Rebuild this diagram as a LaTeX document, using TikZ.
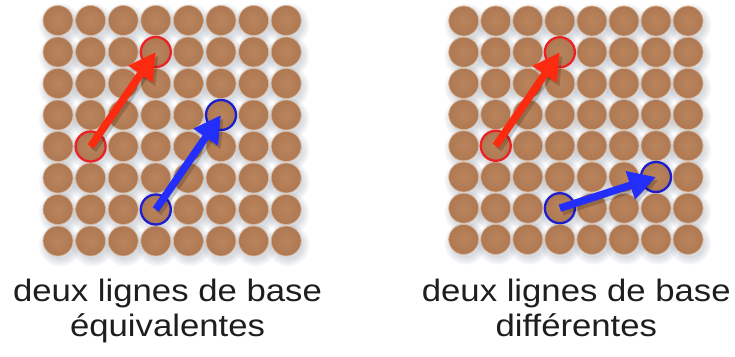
\documentclass[tikz,border=0pt]{standalone}
\usepackage{fontspec}
\setmainfont{Liberation Sans}[FakeStretch=1.12]
\usetikzlibrary{arrows.meta}
\definecolor{beadin}{RGB}{186,133,93}
\definecolor{beadout}{RGB}{174,120,82}
\definecolor{rim}{RGB}{218,184,156}
\definecolor{shadowc}{RGB}{80,92,115}
\definecolor{vred}{RGB}{252,42,14}
\definecolor{vblue}{RGB}{36,46,250}
\definecolor{ringred}{RGB}{236,34,34}
\definecolor{ringblue}{RGB}{30,30,205}
\definecolor{txt}{RGB}{30,30,30}
\begin{document}
\begin{tikzpicture}[x=1pt,y=-1pt,
  bead/.style={circle,minimum size=30pt,inner sep=0pt,inner color=beadin,outer color=beadout,draw=rim,line width=0.7pt},
  beadshadow/.style={fill=shadowc,opacity=0.06},
  ringr/.style={draw=ringred,line width=2.3pt},
  ringb/.style={draw=ringblue,line width=2.3pt},
  vec/.style={line width=7.5pt,-{Triangle[length=27pt,width=28pt]}},
  vecshadow/.style={vec,draw=black,fill=black,opacity=0.18},
  caption/.style={anchor=base,inner sep=0pt,text=txt,font=\fontsize{31}{34}\selectfont}]
\useasboundingbox (0,0) rectangle (735,356);
% shadows of beads
\foreach \i in {0,...,7}{\foreach \j in {0,...,7}{
  \foreach \r in {15,17,19,21}{
    \fill[beadshadow] ({58+32.6*\i+2},{20.5+31.5*\j+4}) circle (\r);
    \fill[beadshadow] ({463.7+32.05*\i+2},{21+31.2*\j+4}) circle (\r);
  }}}
% beads
\foreach \i in {0,...,7}{\foreach \j in {0,...,7}{
  \node[bead] (L-\i-\j) at ({58+32.6*\i},{20.5+31.5*\j}) {};
  \node[bead] (R-\i-\j) at ({463.7+32.05*\i},{21+31.2*\j}) {};
}}
% rings
\draw[ringr] (L-1-4.center) circle (15);
\draw[ringr] (L-3-1.center) circle (15);
\draw[ringb] (L-3-6.center) circle (15);
\draw[ringb] (L-5-3.center) circle (15);
\draw[ringr] (R-1-4.center) circle (15);
\draw[ringr] (R-3-1.center) circle (15);
\draw[ringb] (R-3-6.center) circle (15);
\draw[ringb] (R-6-5.center) circle (15);
% arrow shadows
\begin{scope}[transform canvas={shift={(2.5pt,-3.5pt)}}]
\draw[vecshadow] (L-1-4.center) -- (L-3-1.center);
\draw[vecshadow] (L-3-6.center) -- (L-5-3.center);
\draw[vecshadow] (R-1-4.center) -- (R-3-1.center);
\draw[vecshadow] (R-3-6.center) -- (R-6-5.center);
\end{scope}
% arrows
\draw[vec,draw=vred,fill=vred] (L-1-4.center) -- (L-3-1.center);
\draw[vec,draw=vblue,fill=vblue] (L-3-6.center) -- (L-5-3.center);
\draw[vec,draw=vred,fill=vred] (R-1-4.center) -- (R-3-1.center);
\draw[vec,draw=vblue,fill=vblue] (R-3-6.center) -- (R-6-5.center);
% captions
\node[caption] (capL1) at (167.5,301.7) {deux lignes de base};
\node[caption] (capL2) at (167.5,336) {équivalentes};
\node[caption] (capR1) at (576.3,301.7) {deux lignes de base};
\node[caption] (capR2) at (576.3,336) {différentes};
\end{tikzpicture}
\end{document}
